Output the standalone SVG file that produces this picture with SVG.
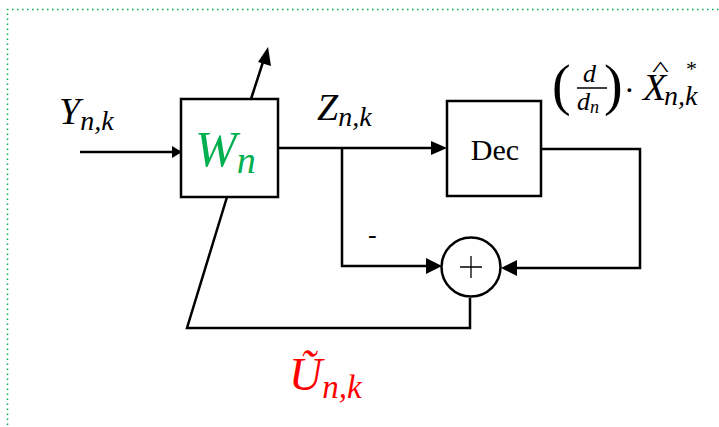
<svg xmlns="http://www.w3.org/2000/svg" width="719" height="427" viewBox="0 0 719 427">
<style>
.ln{fill:none;stroke:#000;stroke-width:2.5}
.box{fill:#fff;stroke:#000;stroke-width:2.5}
</style>
<rect width="719" height="427" fill="#fff"/>
<g id="frame">
<path d="M7.5,430 V9.5 H725" fill="none" stroke="#00b050" stroke-width="1.5" stroke-dasharray="1.5 3.5"/>
</g>
<g id="connectors">
<line class="ln" x1="80" y1="152" x2="172" y2="152"/>
<path d="M172,146 L182,152 L172,158 z"/>
<line class="ln" x1="251" y1="99" x2="263" y2="62"/>
<path d="M268,47 L271,66 L258,62 z"/>
<line class="ln" x1="278" y1="148" x2="437" y2="148"/>
<path d="M431,141 L447,148 L431,155 z"/>
<path class="ln" d="M541,149 H640 V268 H511"/>
<path d="M517,260 L501,268 L517,276 z"/>
<path class="ln" d="M342,148 V266 H430"/>
<path d="M426,258 L442,266 L426,274 z"/>
<path class="ln" d="M470,298 V328 H187 L227,197"/>
</g>
<g id="W">
<rect class="box" x="181" y="99" width="97" height="98"/>
<text x="195" y="166" font-family="Liberation Serif, DejaVu Serif, serif" font-style="italic" font-size="50" fill="#00b050">W<tspan font-size="38" dy="7">n</tspan></text>
</g>
<g id="Dec">
<rect class="box" x="447" y="101" width="94" height="95"/>
<text x="495" y="160" font-family="Liberation Serif, serif" font-size="30" text-anchor="middle">Dec</text>
</g>
<g id="sum">
<circle cx="471" cy="267" r="29.5" fill="#fff" stroke="#000" stroke-width="2.5"/>
<path d="M460,267 H482 M471,256 V278" stroke="#000" stroke-width="1.3"/>
</g>
<g id="labels" font-family="Liberation Serif, DejaVu Serif, serif">
<text x="59" y="124" font-style="italic" font-size="38">Y<tspan font-size="28" dy="6">n,k</tspan></text>
<text x="317" y="120" font-style="italic" font-size="38">Z<tspan font-size="28" dy="6">n,k</tspan></text>
<text x="368" y="243" font-size="26">-</text>
<text x="289" y="390" font-style="italic" font-size="46" fill="#f00">Ũ<tspan font-size="33" dy="8">n,k</tspan></text>
<text x="552" y="104" font-size="56">(</text>
<text x="583" y="82" font-style="italic" font-size="26">d</text>
<line x1="577" y1="88" x2="607" y2="88" stroke="#000" stroke-width="1.5"/>
<text x="577" y="110" font-style="italic" font-size="26">d<tspan font-size="18" dy="3">n</tspan></text>
<text x="604" y="104" font-size="56">)</text>
<text x="624" y="101" font-size="32">·</text>
<text x="643" y="100" font-style="italic" font-size="38">X</text>
<text x="652" y="76" font-size="20" transform="translate(652,0) scale(1.8,1) translate(-652,0)">^</text>
<text x="686" y="76" font-size="22">*</text>
<text x="664" y="105" font-style="italic" font-size="28">n,k</text>
</g>
</svg>
